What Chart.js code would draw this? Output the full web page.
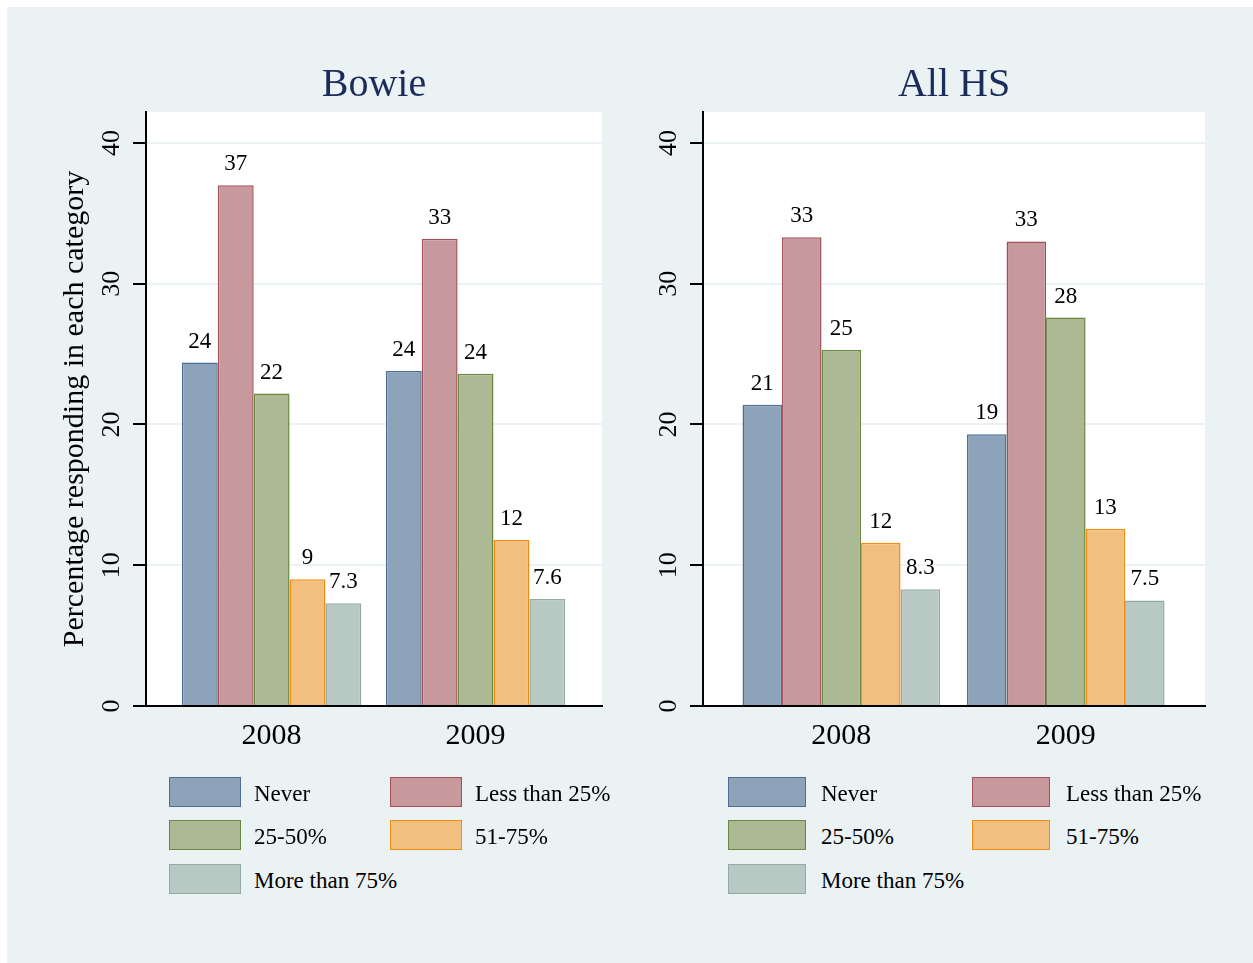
<!DOCTYPE html>
<html><head><meta charset="utf-8">
<script src="https://cdn.jsdelivr.net/npm/chart.js@4"></script>
<style>
html,body{margin:0;padding:0;background:#fff;width:1253px;height:963px;overflow:hidden;}
#bg{position:absolute;left:7px;top:7px;width:1246px;height:956px;background:#EAF2F3;}
canvas{position:absolute;top:0;}
.box{position:absolute;box-sizing:border-box;border:1.5px solid;height:30px;}
.lbl{position:absolute;height:30px;line-height:30px;white-space:nowrap;font-family:'Liberation Serif','Times New Roman',serif;font-size:23px;color:#000;}
</style></head>
<body>
<div id="bg"></div>
<canvas id="c1" width="640" height="800" style="left:0px"></canvas>
<canvas id="c2" width="613" height="800" style="left:640px"></canvas>
<div id="legends"></div>
<script>
const categories = ['2008', '2009'];
const seriesNames = ['Never', 'Less than 25%', '25-50%', '51-75%', 'More than 75%'];
const panelTitles = ['Bowie', 'All HS'];
const yTickValues = [0, 10, 20, 30, 40];
const yAxisTitle = 'Percentage responding in each category';

// Bowie
const bowieNever   = [24.4, 23.8];
const bowieLess25  = [37.0, 33.2];
const bowie25to50  = [22.2, 23.6];
const bowie51to75  = [9.0, 11.8];
const bowieMore75  = [7.3, 7.6];
// All HS
const allNever   = [21.4, 19.3];
const allLess25  = [33.3, 33.0];
const all25to50  = [25.3, 27.6];
const all51to75  = [11.6, 12.6];
const allMore75  = [8.3, 7.5];

const fills   = ['#8DA3B9', '#C8999C', '#ABBA95', '#F1BF80', '#B8C8C2'];
const borders = ['#4A6E95', '#A4505A', '#68873F', '#F08C14', '#93ACA3'];
const FONT = "'Liberation Serif', 'Times New Roman', serif";

function fmt(v){ return String(Number(v.toPrecision(2))); }

const plotBg = {
  id: 'plotBg',
  beforeDraw(chart){
    const {ctx, chartArea: a} = chart;
    ctx.save(); ctx.fillStyle = '#fff';
    ctx.fillRect(a.left, a.top, a.right - a.left, a.bottom - a.top);
    ctx.restore();
  }
};
const valueLabels = {
  id: 'valueLabels',
  afterDatasetsDraw(chart){
    const ctx = chart.ctx;
    ctx.save();
    ctx.font = '23px ' + FONT; ctx.fillStyle = '#000';
    ctx.textAlign = 'center'; ctx.textBaseline = 'alphabetic';
    chart.data.datasets.forEach((ds, i) => {
      chart.getDatasetMeta(i).data.forEach((bar, j) => {
        ctx.fillText(fmt(ds.data[j]), bar.x, bar.y - 15);
      });
    });
    ctx.restore();
  }
};

function makePanel(id, title, series, showYTitle, yWidth, padRight){
  return new Chart(document.getElementById(id), {
    type: 'bar',
    data: {
      labels: categories,
      datasets: series.map((d, i) => ({
        label: seriesNames[i], data: d,
        backgroundColor: fills[i], borderColor: borders[i], borderWidth: 1.5,
        categoryPercentage: 0.88, barPercentage: 1
      }))
    },
    options: {
      responsive: false, animation: false, devicePixelRatio: 1,
      layout: { padding: { top: 0, left: 0, right: padRight, bottom: 34 } },
      plugins: {
        legend: { display: false },
        tooltip: { enabled: false },
        title: { display: true, text: title, fullSize: false, color: '#1B2B5B',
                 font: { family: FONT, size: 40, weight: 'normal', lineHeight: 1.2 },
                 padding: { top: 61, bottom: 3 } }
      },
      scales: {
        x: {
          type: 'linear', min: 2007.384, max: 2009.62, offset: false,
          afterBuildTicks: s => { s.ticks = categories.map(c => ({ value: Number(c) })); },
          afterFit: s => { s.height = 60; },
          ticks: { color: '#000', font: { family: FONT, size: 30 }, padding: 12, autoSkip: false,
                   maxRotation: 0, callback: v => String(v) },
          grid: { display: false, drawTicks: false, offset: false },
          border: { display: true, color: '#000', width: 2 }
        },
        y: {
          min: 0, max: 42.2,
          afterBuildTicks: s => { s.ticks = yTickValues.map(v => ({ value: v })); },
          afterFit: s => { s.width = yWidth; },
          ticks: { color: '#000', font: { family: FONT, size: 26 }, minRotation: 90, maxRotation: 90,
                   crossAlign: 'center', padding: 8, callback: v => String(v) },
          grid: { color: '#EAF2F3', lineWidth: 2, tickColor: '#000', tickLength: 13, tickWidth: 2 },
          border: { color: '#000', width: 2 },
          title: { display: showYTitle, text: yAxisTitle, color: '#000',
                   font: { family: FONT, size: 30, lineHeight: 1.2 }, padding: { top: 57, bottom: 0 } }
        }
      }
    },
    plugins: [plotBg, valueLabels]
  });
}

makePanel('c1', panelTitles[0], [bowieNever, bowieLess25, bowie25to50, bowie51to75, bowieMore75], true, 146, 38);
makePanel('c2', panelTitles[1], [allNever, allLess25, all25to50, all51to75, allMore75], false, 63, 48);

// HTML legends
const rowsY = [777, 820, 864];
const legendLayouts = [
  { colBox: [169, 390], boxW: 72, colText: [254, 475] },
  { colBox: [728, 972], boxW: 78, colText: [821, 1066] }
];
const host = document.getElementById('legends');
legendLayouts.forEach(L => {
  seriesNames.forEach((name, i) => {
    const r = Math.floor(i / 2), c = i % 2;
    const b = document.createElement('div');
    b.className = 'box';
    b.style.left = L.colBox[c] + 'px'; b.style.top = rowsY[r] + 'px';
    b.style.width = L.boxW + 'px';
    b.style.background = fills[i]; b.style.borderColor = borders[i];
    host.appendChild(b);
    const t = document.createElement('div');
    t.className = 'lbl';
    t.style.left = L.colText[c] + 'px'; t.style.top = (rowsY[r] + 2) + 'px';
    t.textContent = name;
    host.appendChild(t);
  });
});
</script>
</body></html>
